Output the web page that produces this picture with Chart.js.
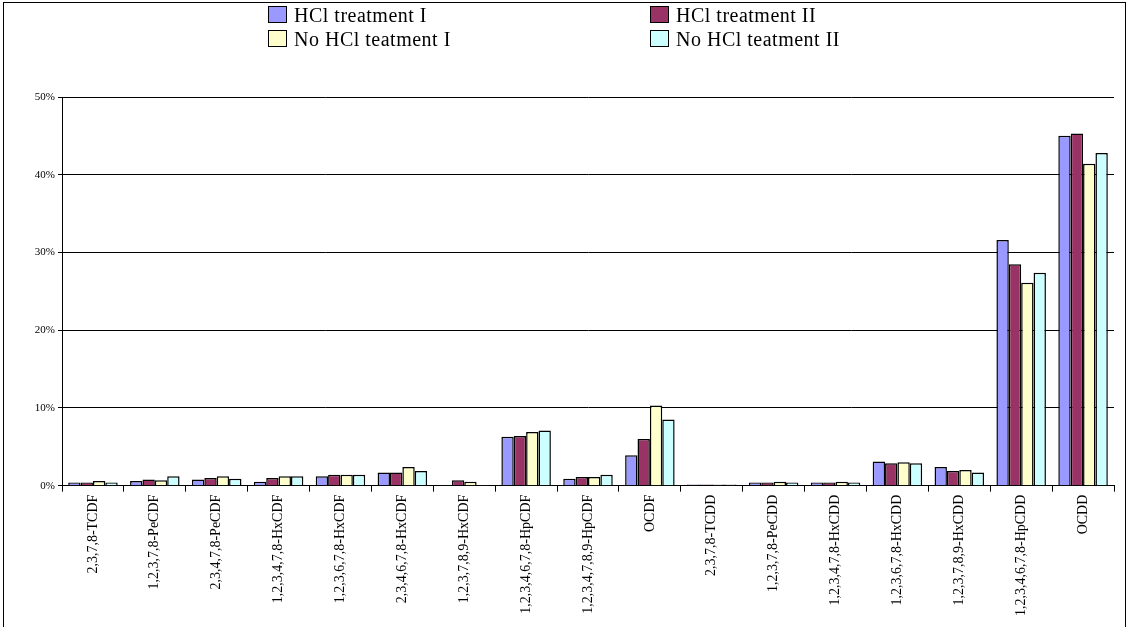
<!DOCTYPE html>
<html><head><meta charset="utf-8">
<script src="https://cdn.jsdelivr.net/npm/chart.js@4/dist/chart.umd.min.js"></script>
<style>
body{margin:0;background:#fff;}
#wrap{position:relative;width:1130px;height:627px;}
#frame{position:absolute;left:3px;top:2px;width:1123px;height:640px;border:1px solid #000;box-sizing:border-box;}
#legend{position:absolute;left:268px;top:4px;font-family:"Liberation Serif",serif;font-size:20px;}
.it{position:absolute;white-space:nowrap;letter-spacing:0.5px;}
.it span{display:inline-block;width:17px;height:15px;border:1px solid #000;margin-right:7px;vertical-align:-1px;}
</style></head>
<body><div id="wrap">
<div id="frame"></div>
<canvas id="c" width="1130" height="627"></canvas>
<div id="legend"></div>
</div>
<script>
const categories = ["2,3,7,8-TCDF","1,2,3,7,8-PeCDF","2,3,4,7,8-PeCDF","1,2,3,4,7,8-HxCDF","1,2,3,6,7,8-HxCDF","2,3,4,6,7,8-HxCDF","1,2,3,7,8,9-HxCDF","1,2,3,4,6,7,8-HpCDF","1,2,3,4,7,8,9-HpCDF","OCDF","2,3,7,8-TCDD","1,2,3,7,8-PeCDD","1,2,3,4,7,8-HxCDD","1,2,3,6,7,8-HxCDD","1,2,3,7,8,9-HxCDD","1,2,3,4,6,7,8-HpCDD","OCDD"];
const hclI   = [0.4,0.6,0.8,0.5,1.2,1.7,0.1,6.3,0.9,3.9,0.15,0.4,0.4,3.1,2.4,31.6,45.0];
const hclII  = [0.4,0.8,1.0,1.0,1.4,1.7,0.7,6.4,1.1,6.0,0.15,0.4,0.4,2.9,1.9,28.5,45.3];
const noHclI = [0.6,0.7,1.2,1.2,1.4,2.4,0.5,6.9,1.1,10.3,0.15,0.5,0.5,3.0,2.0,26.1,41.4];
const noHclII= [0.4,1.2,0.9,1.2,1.4,1.9,0.1,7.1,1.4,8.5,0.15,0.4,0.4,2.9,1.7,27.4,42.8];
const seriesNames = ["HCl treatment I","HCl treatment II","No HCl teatment I","No HCl teatment II"];
const colors = ["#9999ff","#993366","#ffffcc","#ccffff"];
const values = [hclI,hclII,noHclI,noHclII];

const legend = document.getElementById("legend");
const pos = [[0,0],[382,0],[0,24],[382,24]];
seriesNames.forEach((n,i) => {
    const d = document.createElement("div");
    d.className = "it";
    d.style.left = pos[i][0]+"px"; d.style.top = pos[i][1]+"px";
    d.innerHTML = '<span style="background:'+colors[i]+'"></span>'+n;
    legend.appendChild(d);
});

const serif = {family:"'Liberation Serif', serif", size:11};
new Chart(document.getElementById("c"), {
    type:"bar",
    data:{labels:categories, datasets:values.map((v,i)=>({label:seriesNames[i],data:v,backgroundColor:colors[i],borderColor:"#000",borderWidth:1.5,categoryPercentage:0.8,barPercentage:1}))},
    options:{
        responsive:false,animation:false,
        layout:{padding:{top:97,right:16,left:32,bottom:8}},
        plugins:{legend:{display:false},tooltip:{enabled:false}},
        scales:{
            x:{grid:{drawOnChartArea:false,color:"#000",tickLength:6,offset:true},border:{color:"#000"},
               ticks:{color:"#000",font:{family:"'Liberation Serif', serif",size:14},minRotation:90,maxRotation:90,autoSkip:false}},
            y:{min:0,max:50,afterFit:s=>{s.width=30;},ticks:{stepSize:10,color:"#000",font:serif,callback:v=>v+"%"},
               grid:{color:"#000",tickLength:4},border:{color:"#000"}}
        }
    }
});
</script></body></html>
